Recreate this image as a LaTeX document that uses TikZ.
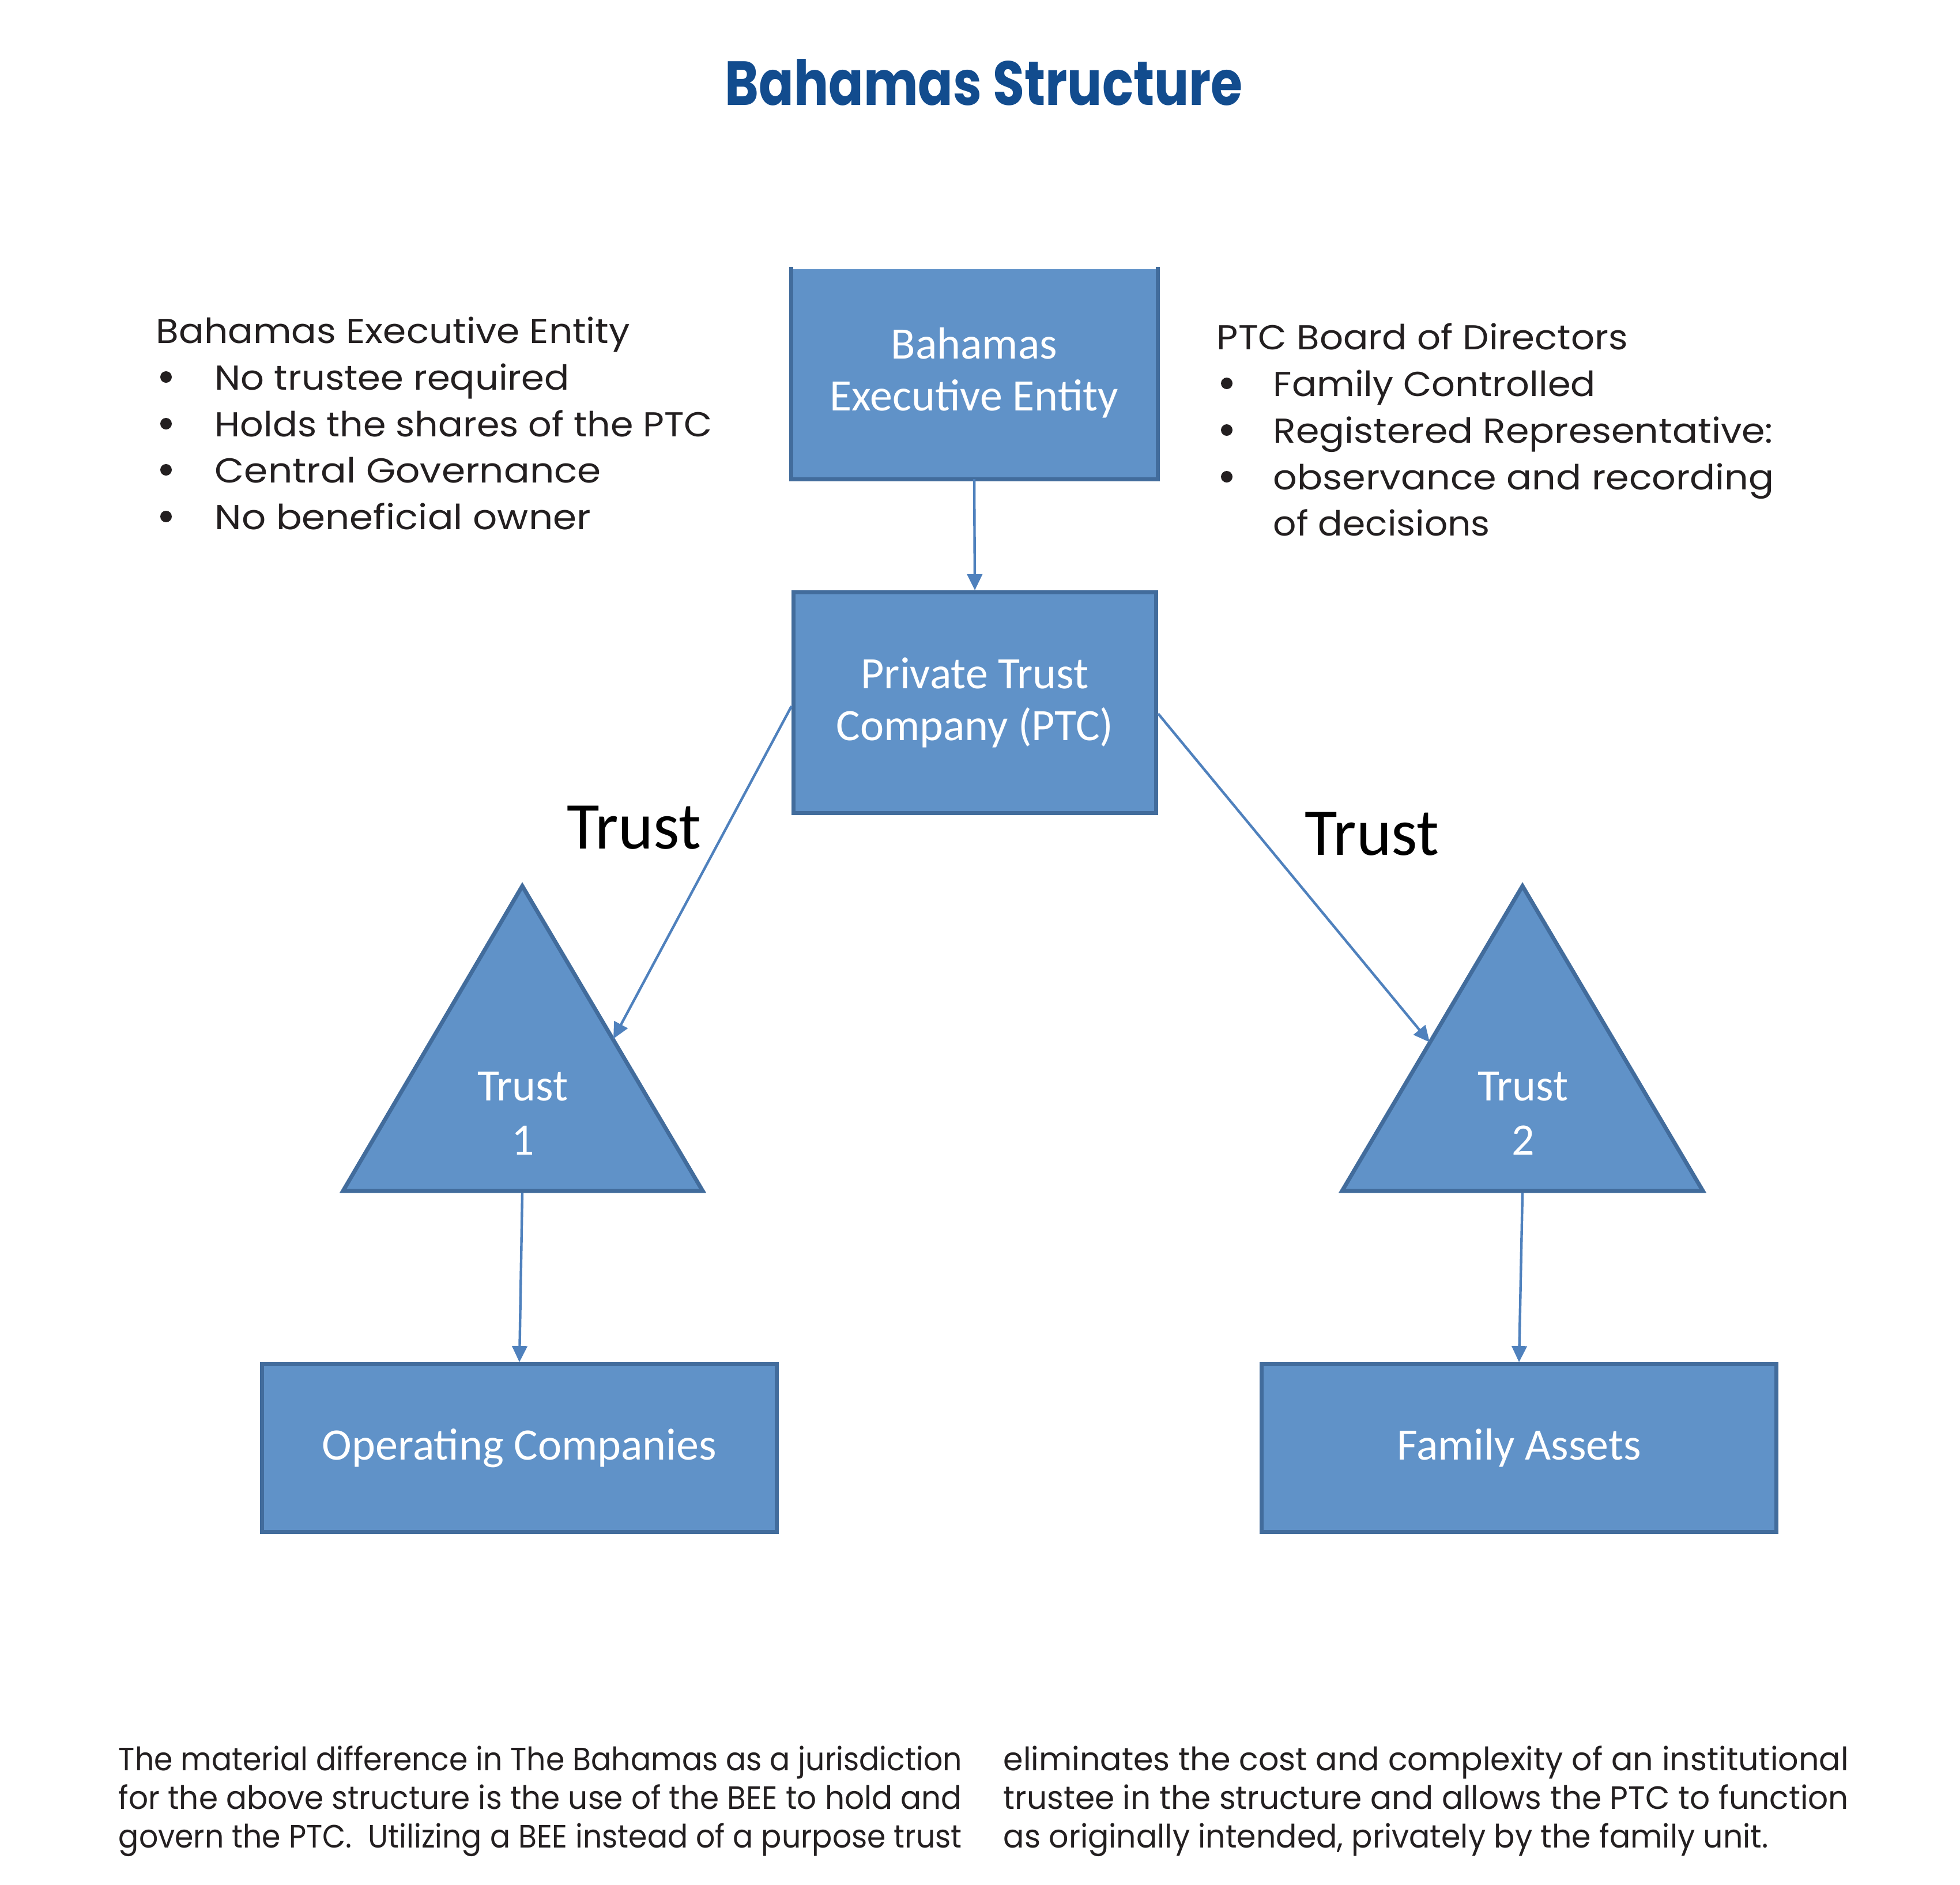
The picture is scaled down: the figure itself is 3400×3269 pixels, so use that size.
\documentclass[tikz,border=0pt]{standalone}
\usepackage{fontspec}
\usepackage{graphicx}
\usetikzlibrary{arrows.meta}
\newfontfamily\gothicf{Poppins}
\newfontfamily\calibf{Carlito}
\definecolor{boxfill}{RGB}{96,146,200}
\definecolor{boxline}{RGB}{66,108,156}
\definecolor{arrowc}{RGB}{79,129,189}
\definecolor{titlec}{RGB}{18,76,142}
\definecolor{txtc}{RGB}{35,31,32}
\newcommand\fitw[2]{\resizebox{\dimexpr 0.25pt*#1\relax}{\height}{#2}}
\begin{document}
\begin{tikzpicture}[x=0.25pt,y=-0.25pt,
  boxnode/.style={fill=boxfill, draw=boxline, line width=1.75pt, inner sep=0pt,
    text=white, align=center, font=\calibf\fontsize{19.5}{22.5}\selectfont},
  trinode/.style={fill=boxfill, draw=boxline, line width=1.75pt, line join=miter},
  tritext/.style={text=white, align=center, inner sep=0pt, font=\calibf\fontsize{19.5}{23.5}\selectfont},
  arr/.style={draw=arrowc, line width=1.1pt, -{Triangle[length=7pt,width=6.5pt]}},
  gtext/.style={text=txtc, anchor=base west, inner sep=0pt, font=\gothicf\fontsize{15}{18}\selectfont},
  ptext/.style={text=txtc, anchor=base west, inner sep=0pt, font=\gothicf\fontsize{14}{16}\selectfont},
  trustlbl/.style={text=black, anchor=base, inner sep=0pt, font=\calibf\fontsize{29}{32}\selectfont},
  bul/.style={fill=txtc}]
\useasboundingbox (0,0) rectangle (3400,3269);
\fill[white] (0,0) rectangle (3400,3269);

% title
\node[anchor=base west, inner sep=0pt, text=titlec, font=\gothicf\bfseries\fontsize{27}{30}\selectfont] (title) at (1257,182) {\fitw{898}{Bahamas Structure}};

% boxes
\node[boxnode, draw=none, minimum width=157.25pt, minimum height=90.25pt] (bee) at (1690,647) {Bahamas\\Executive Entity};
\draw[boxline, line width=1.75pt] (bee.north west) -- (bee.south west) -- (bee.south east) -- (bee.north east);
\node[boxnode, minimum width=157.25pt, minimum height=95.75pt] (ptc) at (1691,1219) {Private Trust\\Company (PTC)};
\node[boxnode, minimum width=223.25pt, minimum height=72.75pt] (opco) at (901,2512) {Operating Companies};
\node[boxnode, minimum width=223.25pt, minimum height=72.75pt] (fa) at (2635,2512) {Family Assets};

% triangles
\draw[trinode] (906,1537) -- (1219,2066) -- (595,2066) -- cycle;
\draw[trinode] (2641,1537) -- (2954,2066) -- (2328,2066) -- cycle;
\node[tritext] (t1) at (907,1931) {Trust\\1};
\node[tritext] (t2) at (2642,1931) {Trust\\2};
\coordinate (t1in) at (1064,1802);
\coordinate (t2in) at (2480,1808);
\coordinate (t1out) at (906,2069);
\coordinate (t2out) at (2641,2069);

% connectors
\draw[arr] (bee.south) -- (ptc.north);
\draw[arr] ([yshift=-1.5pt]ptc.west) -- (t1in);
\draw[arr] ([yshift=-4.75pt]ptc.east) -- (t2in);
\draw[arr] (t1out) -- (opco.north);
\draw[arr] (t2out) -- (fa.north);

% Trust labels
\node[trustlbl] (lblL) at (1100,1472) {Trust};
\node[trustlbl] (lblR) at (2380,1483) {Trust};

% left text block
\node[gtext] (lh) at (270,595) {\fitw{822}{Bahamas Executive Entity}};
\node[gtext] (l1) at (372,676) {\fitw{615}{No trustee required}};
\node[gtext] (l2) at (372,757) {\fitw{863}{Holds the shares of the PTC}};
\node[gtext] (l3) at (372,837) {\fitw{670}{Central Governance}};
\node[gtext] (l4) at (372,918) {\fitw{652}{No beneficial owner}};
\foreach \yy in {676,757,837,918} \fill[bul] (288,\yy-22) circle (10);

% right text block
\node[gtext] (rh) at (2110,606) {\fitw{713}{PTC Board of Directors}};
\node[gtext] (r1) at (2208,687) {\fitw{559}{Family Controlled}};
\node[gtext] (r2) at (2208,768) {\fitw{867}{Registered Representative:}};
\node[gtext] (r3) at (2208,849) {\fitw{869}{observance and recording}};
\node[gtext] (r4) at (2208,929) {\fitw{376}{of decisions}};
\foreach \yy in {687,768,849} \fill[bul] (2128,\yy-22) circle (10);

% bottom paragraph
\node[ptext] (p1) at (205,3071) {\fitw{1463}{The material difference in The Bahamas as a jurisdiction}};
\node[ptext] (p2) at (205,3138) {\fitw{1463}{for the above structure is the use of the BEE to hold and}};
\node[ptext] (p3) at (205,3205) {\fitw{1463}{govern the PTC.\ \ Utilizing a BEE instead of a purpose trust}};
\node[ptext] (p4) at (1740,3071) {\fitw{1466}{eliminates the cost and complexity of an institutional}};
\node[ptext] (p5) at (1740,3138) {\fitw{1466}{trustee in the structure and allows the PTC to function}};
\node[ptext] (p6) at (1740,3205) {\fitw{1327}{as originally intended, privately by the family unit.}};
\end{tikzpicture}
\end{document}
